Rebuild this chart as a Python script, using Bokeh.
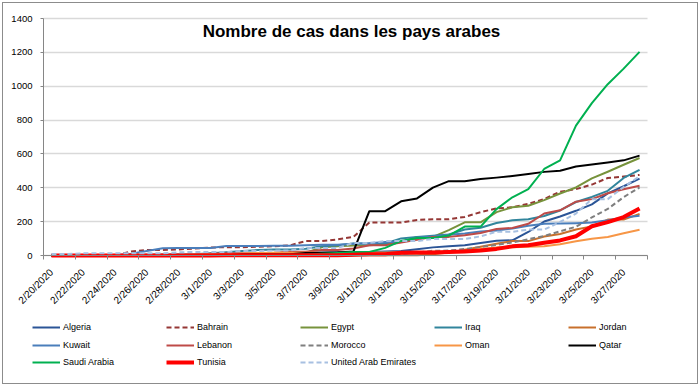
import math
from bokeh.plotting import figure
from bokeh.models import Range1d, FixedTicker, Legend, LegendItem, Label, ColumnDataSource
from bokeh.embed import file_html
from bokeh.resources import INLINE

title_text = "Nombre de cas dans les pays arabes"

dates = ["2/20/2020", "2/21/2020", "2/22/2020", "2/23/2020", "2/24/2020", "2/25/2020",
         "2/26/2020", "2/27/2020", "2/28/2020", "2/29/2020", "3/1/2020", "3/2/2020",
         "3/3/2020", "3/4/2020", "3/5/2020", "3/6/2020", "3/7/2020", "3/8/2020",
         "3/9/2020", "3/10/2020", "3/11/2020", "3/12/2020", "3/13/2020", "3/14/2020",
         "3/15/2020", "3/16/2020", "3/17/2020", "3/18/2020", "3/19/2020", "3/20/2020",
         "3/21/2020", "3/22/2020", "3/23/2020", "3/24/2020", "3/25/2020", "3/26/2020",
         "3/27/2020", "3/28/2020"]

y_ticks = [0, 200, 400, 600, 800, 1000, 1200, 1400]

algeria = [0, 0, 0, 0, 0, 1, 1, 1, 1, 1, 1, 3, 5, 12, 12, 17, 17, 19, 20, 20,
           20, 24, 26, 37, 48, 54, 60, 74, 87, 90, 139, 201, 230, 264, 302, 367, 409, 454]
bahrain = [0, 0, 0, 0, 1, 23, 33, 33, 36, 41, 47, 49, 49, 52, 55, 60, 85, 85, 95, 110,
           195, 195, 195, 210, 214, 214, 228, 256, 278, 285, 305, 334, 377, 392, 419, 458, 466, 476]
egypt = [1, 1, 1, 1, 1, 1, 1, 1, 1, 1, 2, 2, 2, 2, 3, 15, 15, 49, 55, 59,
         60, 67, 80, 109, 110, 150, 196, 196, 256, 285, 294, 327, 366, 402, 456, 495, 536, 576]
iraq = [0, 0, 0, 0, 1, 1, 5, 6, 7, 8, 13, 19, 26, 32, 35, 35, 40, 54, 60, 71,
        71, 71, 101, 110, 116, 124, 154, 164, 192, 208, 214, 233, 266, 316, 346, 382, 458, 506]
jordan = [0, 0, 0, 0, 0, 0, 0, 0, 0, 0, 0, 1, 1, 1, 1, 1, 1, 1, 1, 1,
          1, 1, 1, 1, 8, 17, 34, 52, 69, 85, 85, 112, 127, 154, 172, 212, 212, 246]
kuwait = [0, 0, 0, 0, 1, 11, 26, 43, 45, 45, 45, 56, 56, 56, 58, 58, 61, 64, 64, 69,
          72, 80, 80, 104, 112, 123, 130, 142, 148, 159, 176, 188, 189, 191, 195, 208, 225, 235]
lebanon = [0, 1, 1, 1, 1, 1, 2, 2, 2, 4, 10, 13, 13, 13, 16, 22, 22, 32, 32, 41,
           61, 61, 77, 93, 110, 110, 120, 133, 157, 163, 187, 248, 267, 318, 333, 368, 391, 412]
morocco = [0, 0, 0, 0, 0, 0, 0, 0, 0, 0, 0, 1, 1, 1, 2, 2, 2, 2, 2, 2,
           5, 6, 7, 17, 28, 29, 38, 49, 63, 77, 96, 115, 143, 170, 225, 275, 345, 402]
oman = [0, 0, 0, 0, 2, 4, 4, 4, 4, 6, 6, 6, 12, 15, 16, 16, 16, 16, 16, 18,
        18, 18, 19, 19, 22, 22, 24, 39, 48, 48, 52, 55, 66, 84, 99, 109, 131, 152]
qatar = [0, 0, 0, 0, 0, 0, 0, 0, 0, 1, 1, 1, 7, 8, 8, 8, 15, 15, 18, 24,
         262, 262, 320, 337, 401, 439, 439, 452, 460, 470, 481, 494, 501, 526, 537, 549, 562, 590]
saudi_arabia = [0, 0, 0, 0, 0, 0, 0, 0, 0, 0, 0, 1, 1, 1, 5, 5, 5, 11, 15, 20,
                21, 45, 86, 103, 103, 118, 171, 171, 274, 344, 392, 511, 562, 767, 900, 1012, 1104, 1203]
tunisia = [0, 0, 0, 0, 0, 0, 0, 0, 0, 0, 0, 1, 1, 1, 1, 1, 1, 2, 2, 5,
           7, 7, 16, 18, 18, 20, 24, 29, 39, 54, 60, 75, 89, 114, 173, 197, 227, 278]
uae = [9, 9, 13, 13, 13, 13, 13, 13, 19, 21, 21, 21, 27, 27, 29, 29, 45, 45, 45, 74,
       74, 85, 85, 85, 98, 98, 98, 113, 140, 140, 153, 153, 198, 248, 333, 333, 405, 468]

series = [
    ("Algeria", algeria, "#2B5597", 2, "solid"),
    ("Bahrain", bahrain, "#953735", 2, "5 3"),
    ("Egypt", egypt, "#77933C", 2, "solid"),
    ("Iraq", iraq, "#31859C", 2, "solid"),
    ("Jordan", jordan, "#C8702C", 2, "solid"),
    ("Kuwait", kuwait, "#4A7EBB", 2, "solid"),
    ("Lebanon", lebanon, "#BE4B48", 2, "solid"),
    ("Morocco", morocco, "#7F7F7F", 2, "5 3"),
    ("Oman", oman, "#F79646", 2, "solid"),
    ("Qatar", qatar, "#000000", 2, "solid"),
    ("Saudi Arabia", saudi_arabia, "#00B050", 2, "solid"),
    ("Tunisia", tunisia, "#FF0000", 4, "solid"),
    ("United Arab Emirates", uae, "#A7C0E1", 2, "5 3"),
]

# ---- layout (page pixels) ----
W, H = 696, 382          # figure size
OX, OY = 2, 2            # figure origin on the page (via margin)
PL, PR = 42, 646         # plot area left / right
PT, P0 = 17, 254         # plot area top / zero line

n = len(dates)
ymax = y_ticks[-1]
kx = n / (PR - PL)
ky = ymax / (P0 - PT)
x_start = -(PL - OX) * kx
x_end = n + (OX + W - PR) * kx
y_end = ymax + (PT - OY) * ky
y_start = -(OY + H - P0) * ky

xs = [i + 0.5 for i in range(n)]

p = figure(width=W, height=H, output_backend="svg", toolbar_location=None,
           x_range=Range1d(x_start, x_end), y_range=Range1d(y_start, y_end),
           min_border=0)
p.margin = (OY, 0, 0, OX)
p.styles = {"border": "1px solid #8C8C8C", "box-sizing": "border-box"}
p.outline_line_color = None
p.background_fill_color = "white"
p.border_fill_color = "white"

renderers = []
for name, vals, color, lw, dash in series:
    src = ColumnDataSource(dict(x=xs, y=vals))
    r = p.line("x", "y", source=src, line_color=color, line_width=lw,
               line_dash=dash, line_join="round")
    renderers.append((name, r))

# x axis, drawn on the zero line
major = [i + 0.5 for i in range(0, n, 2)]
minor = [i for i in range(0, n + 1, 2)]
xa = p.xaxis[0]
xa.fixed_location = 0
xa.bounds = (0, n)
xa.ticker = FixedTicker(ticks=major, minor_ticks=minor)
xa.major_label_overrides = {i + 0.5: dates[i] for i in range(0, n, 2)}
xa.major_tick_out = 0
xa.major_tick_in = 0
xa.minor_tick_out = 4
xa.minor_tick_in = 0
xa.minor_tick_line_color = "#868686"
xa.axis_line_color = "#868686"
xa.major_label_orientation = math.pi / 4
xa.major_label_text_font = "Liberation Sans"
xa.major_label_text_font_size = "10px"
xa.major_label_text_color = "#000000"
xa.major_label_standoff = 11

# y axis
ya = p.yaxis[0]
ya.fixed_location = 0
ya.bounds = (0, ymax)
ya.ticker = FixedTicker(ticks=y_ticks, minor_ticks=[])
ya.major_tick_out = 3
ya.major_tick_in = 0
ya.major_tick_line_color = "#868686"
ya.axis_line_color = "#868686"
ya.major_label_text_font = "Liberation Sans"
ya.major_label_text_font_size = "9.5px"
ya.major_label_text_color = "#000000"
ya.major_label_standoff = 8

p.xgrid.visible = False
p.ygrid.grid_line_color = "#D9D9D9"
p.ygrid.grid_line_width = 1.5
p.ygrid.cross_bounds = (0, n)

# title inside the chart area
p.add_layout(Label(x=350 - OX, y=OY + H - 30, x_units="screen", y_units="screen",
                   text=title_text, text_align="center", text_baseline="alphabetic",
                   text_font="Liberation Sans", text_font_style="bold",
                   text_font_size="17px", text_color="#000000"))

# legend: 5 columns x 3 rows, one small legend per entry
ncol = 5
col_x = [31 + 134 * c for c in range(ncol)]
row_y = [326, 344, 361]
for k, (name, r) in enumerate(renderers):
    row, col = divmod(k, ncol)
    leg = Legend(items=[LegendItem(label=name, renderers=[r])],
                 location=(col_x[col] - OX, OY + H - (row_y[row] + 6)),
                 padding=0, margin=0, spacing=0, glyph_width=28, glyph_height=12,
                 label_height=12, label_standoff=3, border_line_alpha=0,
                 background_fill_alpha=0, label_text_font="Liberation Sans",
                 label_text_font_size="9px", label_text_color="#000000")
    p.add_layout(leg)

open("out.html", "w").write(file_html(p, INLINE))
